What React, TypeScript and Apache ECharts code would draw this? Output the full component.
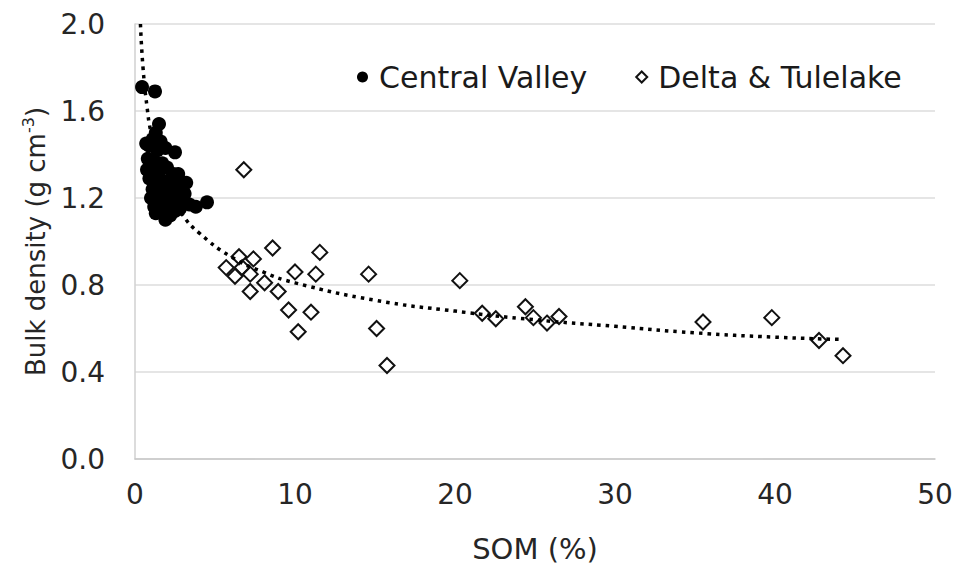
import React, { useEffect, useRef } from "react";
import * as echarts from "echarts";

// Central Valley (filled circles): SOM (%) and bulk density (g cm-3)
const cvSOM = [0.44, 1.25, 1.5, 1.3, 1.1, 1.6, 0.9, 1.4, 1.9, 2.5, 0.7, 0.8, 1.2, 1.7, 1.0, 1.5, 2.0, 2.4, 2.7,
  0.9, 1.3, 1.7, 2.1, 2.5, 2.9, 3.2, 1.1, 1.5, 1.9, 2.3, 2.7, 3.1, 1.0, 1.4, 1.8, 2.2, 2.6, 3.0, 3.4, 3.8, 4.5,
  1.2, 1.6, 2.0, 2.5, 2.8, 1.3, 1.9, 2.2, 0.75];
const cvBD = [1.71, 1.69, 1.54, 1.50, 1.47, 1.46, 1.44, 1.42, 1.43, 1.41, 1.45, 1.38, 1.37, 1.36, 1.33, 1.32, 1.34, 1.31, 1.31,
  1.29, 1.28, 1.27, 1.28, 1.26, 1.27, 1.27, 1.24, 1.23, 1.24, 1.22, 1.23, 1.22, 1.20, 1.19, 1.20, 1.18, 1.19, 1.18, 1.17, 1.16, 1.18,
  1.16, 1.15, 1.15, 1.14, 1.15, 1.13, 1.10, 1.12, 1.33];

// Delta & Tulelake (open diamonds)
const dtSOM = [6.8, 8.6, 11.55, 6.5, 7.4, 5.7, 6.25, 7.2, 6.7, 7.2, 8.1, 8.95, 10.0, 11.3, 14.6, 9.6, 11.0, 10.2, 15.1, 15.75,
  20.3, 21.7, 22.55, 24.4, 24.9, 25.75, 26.5, 35.5, 39.8, 42.75, 44.25];
const dtBD = [1.33, 0.97, 0.95, 0.93, 0.92, 0.88, 0.84, 0.85, 0.88, 0.77, 0.81, 0.77, 0.86, 0.85, 0.85, 0.685, 0.675, 0.585, 0.60, 0.43,
  0.82, 0.67, 0.645, 0.70, 0.65, 0.625, 0.655, 0.63, 0.65, 0.545, 0.475];

// Dotted trend line
const trendSOM = [0.34, 0.5, 0.75, 1, 1.5, 2, 3, 4, 6, 8, 10, 15, 20, 25, 30, 35, 40, 44];
const trendBD = [2.0, 1.8, 1.62, 1.5, 1.35, 1.25, 1.12, 1.04, 0.93, 0.86, 0.81, 0.73, 0.68, 0.64, 0.61, 0.58, 0.56, 0.55];

const seriesNames = ["Central Valley", "Delta & Tulelake"];
const xAxisTitle = "SOM (%)";

const FONT = "DejaVu Sans";
const TXT = "#262626";

export default function App() {
  const ref = useRef<HTMLDivElement>(null);
  useEffect(() => {
    if (!ref.current) return;
    const chart = echarts.init(ref.current, null, { renderer: "svg" });
    const zip = (a: number[], b: number[]) => a.map((v, i) => [v, b[i]]);
    chart.setOption({
      animation: false,
      backgroundColor: "#ffffff",
      grid: { left: 135, right: 26, top: 24, bottom: 105, containLabel: false, outerBoundsMode: "none" },
      legend: {
        data: seriesNames,
        left: 352,
        top: 57,
        itemWidth: 11,
        itemHeight: 11,
        itemGap: 48,
        textStyle: { fontFamily: FONT, fontSize: 30, color: "#1a1a1a", padding: [0, 0, 0, 6] },
      },
      xAxis: {
        type: "value",
        min: 0,
        max: 50,
        interval: 10,
        name: xAxisTitle,
        nameLocation: "middle",
        nameGap: 75,
        nameTextStyle: { fontFamily: FONT, fontSize: 29, color: TXT },
        axisLine: { show: true, lineStyle: { color: "#c8c8c8", width: 1.5 } },
        axisTick: { show: false },
        splitLine: { show: false },
        axisLabel: { fontFamily: FONT, fontSize: 28, color: TXT, margin: 21 },
      },
      yAxis: {
        type: "value",
        min: 0,
        max: 2,
        interval: 0.4,
        name: "{a|Bulk density (g cm}{s|-3}{a|)}",
        nameLocation: "middle",
        nameGap: 83,
        nameRotate: 90,
        nameTextStyle: {
          rich: {
            a: { fontFamily: FONT, fontSize: 26, color: TXT, lineHeight: 32 },
            s: { fontFamily: FONT, fontSize: 16, color: TXT, verticalAlign: "top", lineHeight: 32 },
          },
        },
        axisLine: { show: true, lineStyle: { color: "#d0d0d0", width: 1.5 } },
        axisTick: { show: false },
        splitLine: { show: true, lineStyle: { color: "#dcdcdc", width: 1.5 } },
        axisLabel: {
          fontFamily: FONT,
          fontSize: 28,
          color: TXT,
          margin: 30,
          formatter: (v: number) => v.toFixed(1),
        },
      },
      series: [
        {
          name: seriesNames[0],
          type: "scatter",
          symbol: "circle",
          symbolSize: 14,
          itemStyle: { color: "#000000", opacity: 1 },
          data: zip(cvSOM, cvBD),
          z: 3,
        },
        {
          name: seriesNames[1],
          type: "scatter",
          symbol: "diamond",
          symbolSize: 15,
          itemStyle: { color: "rgba(255,255,255,0)", borderColor: "#111111", borderWidth: 2, opacity: 1 },
          data: zip(dtSOM, dtBD),
          z: 3,
        },
        {
          name: "Trend",
          type: "line",
          smooth: true,
          showSymbol: false,
          symbol: "none",
          lineStyle: { color: "#000000", width: 3.5, type: [3.5, 5] },
          data: zip(trendSOM, trendBD),
          z: 4,
        },
      ],
    });
    return () => chart.dispose();
  }, []);
  return <div ref={ref} style={{ position: "fixed", left: 0, top: 0, width: 961, height: 564 }} />;
}
